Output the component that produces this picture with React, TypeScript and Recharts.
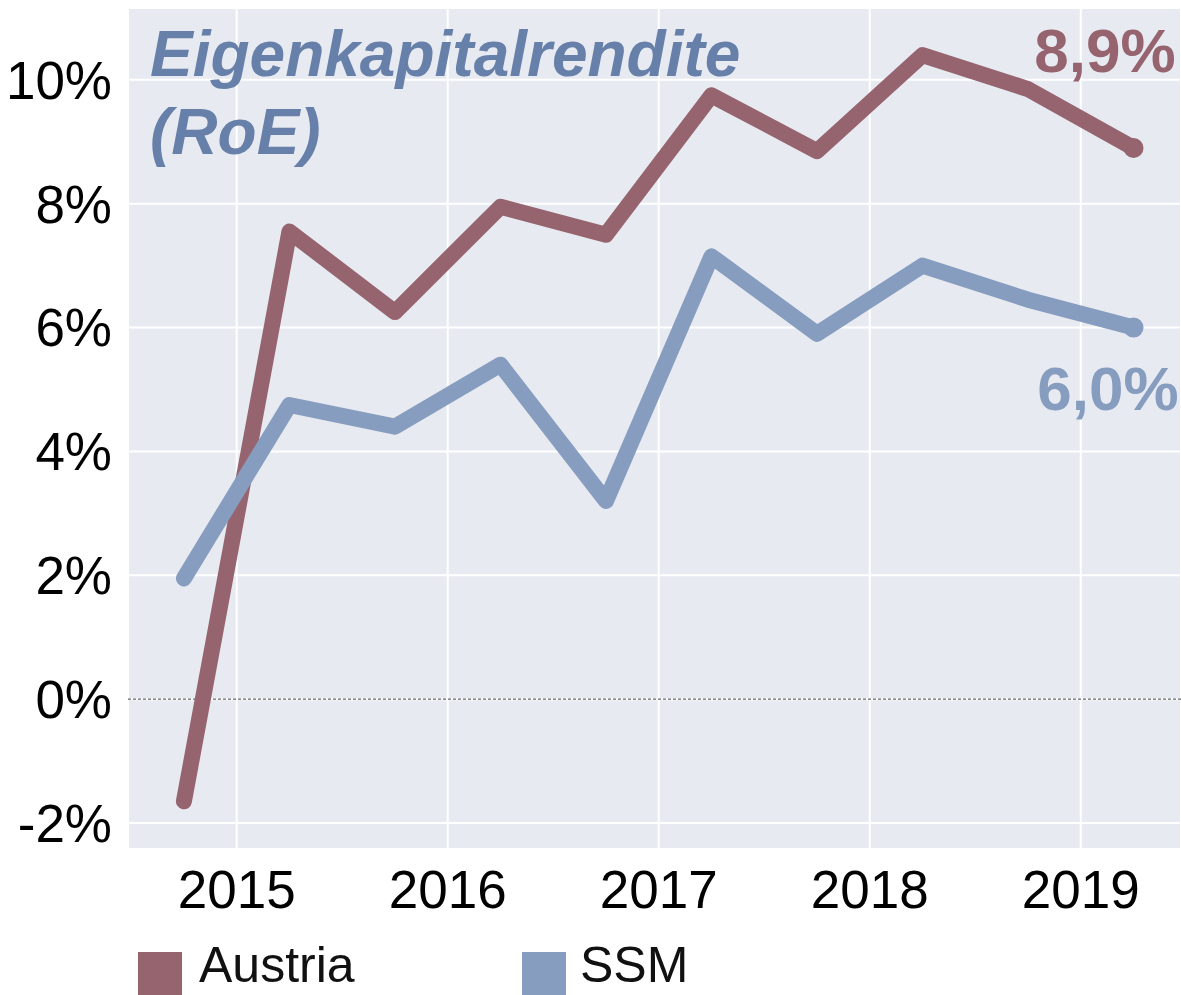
import React from 'react';
import {
  LineChart,
  Line,
  XAxis,
  YAxis,
  CartesianGrid,
  ReferenceLine,
  Legend,
  LabelList,
  Customized
} from 'recharts';

// half-year observations (mid of H1 / H2)
const periods = [2014.75, 2015.25, 2015.75, 2016.25, 2016.75, 2017.25, 2017.75, 2018.25, 2018.75, 2019.25];
const austria = [-1.65, 7.55, 6.25, 7.95, 7.5, 9.75, 8.85, 10.4, 9.85, 8.9];
const ssm = [1.95, 4.75, 4.4, 5.4, 3.2, 7.15, 5.9, 7.0, 6.45, 6.0];

const yearTicks = [2015, 2016, 2017, 2018, 2019];
const pctTicks = [-2, 0, 2, 4, 6, 8, 10];

const austriaEnd = '8,9%';
const ssmEnd = '6,0%';

const COLORS = {
  austria: '#95646f',
  ssm: '#879dbf',
  title: '#6680aa',
  bg: '#e8eaf1'
};

const FONT = '"Liberation Sans", Arial, sans-serif';

const chartData = periods.map((p, i) => ({
  period: p,
  austria: austria[i],
  ssm: ssm[i]
}));

const lastIndex = chartData.length - 1;

// only the last observation gets a round marker
const endDot = (color: string) => (props: any) => {
  const { cx, cy, index } = props;
  if (index !== lastIndex) return <g key={`d-${index}`} />;
  return <circle key={`d-${index}`} cx={cx} cy={cy} r={10} fill={color} />;
};

const endLabel = (text: string, color: string, dx: number, dy: number) => (props: any) => {
  const { x, y, index } = props;
  if (index !== lastIndex) return null;
  return (
    <text
      x={x + dx}
      y={y + dy}
      textAnchor="end"
      fill={color}
      fontFamily={FONT}
      fontWeight="bold"
      fontSize={62}
    >
      {text}
    </text>
  );
};

const Title = () => (
  <text fill={COLORS.title} fontFamily={FONT} fontWeight="bold" fontStyle="italic" fontSize={64}>
    <tspan x={150} y={76}>Eigenkapitalrendite</tspan>
    <tspan x={150} y={154}>(RoE)</tspan>
  </text>
);

const legendText = { position: 'absolute' as const, top: 0, lineHeight: '48px', height: 48, whiteSpace: 'nowrap' as const };

const LegendBox = () => (
  <div style={{ position: 'relative', height: 54, fontFamily: FONT, fontSize: 50, color: '#111' }}>
    <div style={{ position: 'absolute', left: 138, top: 11, width: 44, height: 43, background: COLORS.austria }} />
    <div style={{ ...legendText, left: 199 }}>Austria</div>
    <div style={{ position: 'absolute', left: 522, top: 11, width: 44, height: 43, background: COLORS.ssm }} />
    <div style={{ ...legendText, left: 580 }}>SSM</div>
  </div>
);

export default function App() {
  return (
    <div style={{ position: 'absolute', left: 0, top: 0, background: '#fff' }}>
      <LineChart width={1181} height={995} data={chartData} margin={{ top: 8, right: 0, left: 0, bottom: 0 }}>
        <CartesianGrid fill={COLORS.bg} stroke="#ffffff" strokeWidth={2} />
        <XAxis
          dataKey="period"
          type="number"
          domain={[2014.485, 2019.475]}
          ticks={yearTicks}
          allowDataOverflow
          axisLine={false}
          tickLine={false}
          tickSize={0}
          tickMargin={21}
          height={92}
          tick={{ fill: '#000', fontSize: 53, fontFamily: FONT }}
        />
        <YAxis
          type="number"
          domain={[-2.42, 11.16]}
          ticks={pctTicks}
          allowDataOverflow
          axisLine={false}
          tickLine={false}
          tickSize={0}
          tickMargin={16}
          width={128}
          tickFormatter={(v) => `${v}%`}
          tick={{ fill: '#000', fontSize: 53, fontFamily: FONT }}
        />
        <ReferenceLine y={0} stroke="#666" strokeWidth={1.2} strokeDasharray="3 2" />
        <Line
          dataKey="austria"
          stroke={COLORS.austria}
          strokeWidth={16}
          strokeLinecap="round"
          strokeLinejoin="round"
          dot={endDot(COLORS.austria)}
          activeDot={false}
          isAnimationActive={false}
        >
          <LabelList dataKey="austria" content={endLabel(austriaEnd, COLORS.austria, 42, -76)} />
        </Line>
        <Line
          dataKey="ssm"
          stroke={COLORS.ssm}
          strokeWidth={16}
          strokeLinecap="round"
          strokeLinejoin="round"
          dot={endDot(COLORS.ssm)}
          activeDot={false}
          isAnimationActive={false}
        >
          <LabelList dataKey="ssm" content={endLabel(ssmEnd, COLORS.ssm, 45, 82)} />
        </Line>
        <Customized component={Title} />
        <Legend verticalAlign="bottom" height={54} content={() => <LegendBox />} />
      </LineChart>
    </div>
  );
}
